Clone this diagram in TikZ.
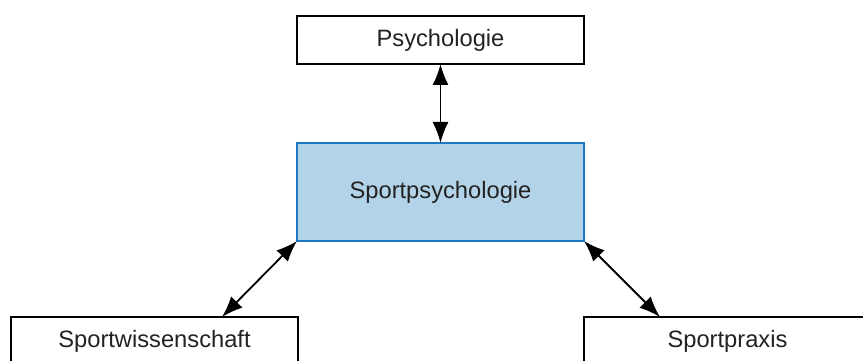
\documentclass[tikz,border=0pt]{standalone}
\usepackage{fontspec}
\setmainfont{Liberation Sans}
\usetikzlibrary{arrows.meta}
\definecolor{boxblue}{HTML}{B3D3E8}
\definecolor{edgeblue}{HTML}{1E76BE}
\definecolor{txt}{HTML}{222222}
\begin{document}
\begin{tikzpicture}[x=1pt,y=-1pt,
  box/.style={draw=black,line width=1.4pt,rectangle,minimum width=287pt,inner sep=0pt,outer sep=0pt,
    text=txt,font=\fontsize{23.7}{28}\selectfont},
  link/.style={line width=1.8pt,{Latex[length=21pt,width=16pt]}-{Latex[length=21pt,width=16pt]}}]
\useasboundingbox (0,0) rectangle (863,361);
\clip (0,0) rectangle (863,361);
\node[box,minimum height=48pt] (psy) at (440.5,40) {Psychologie};
\node[box,minimum height=98pt,fill=boxblue,draw=edgeblue] (sp) at (440.5,192) {Sportpsychologie};
\node[box,minimum height=48pt] (sw) at (154.5,341) {Sportwissenschaft};
\node[box,minimum height=48pt] (pr) at (727.5,341) {Sportpraxis};
\draw[link] (psy.south) -- (sp.north);
\draw[link] (sp.south west) -- ([xshift=67.5pt]sw.north);
\draw[link] (sp.south east) -- ([xshift=-67.5pt]pr.north);
\end{tikzpicture}
\end{document}
